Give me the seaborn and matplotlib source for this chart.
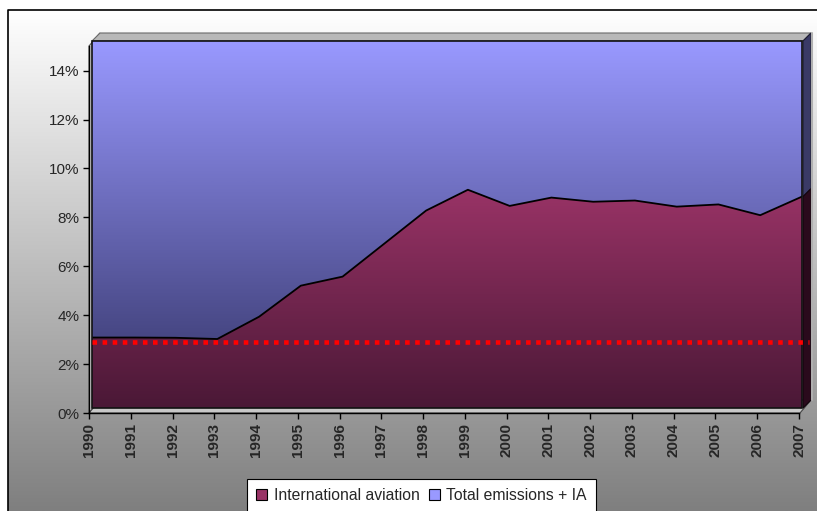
import numpy as np
import pandas as pd
import matplotlib
matplotlib.use("Agg")
import matplotlib.pyplot as plt
import seaborn as sns
from matplotlib.colors import LinearSegmentedColormap
from matplotlib.patches import Polygon, Rectangle, Patch

# ---- data -------------------------------------------------------------
years = list(range(1990, 2008))
intl_aviation = [2.88, 2.88, 2.87, 2.82, 3.73, 5.00, 5.37, 6.72, 8.07, 8.92,
                 8.26, 8.60, 8.43, 8.48, 8.23, 8.32, 7.88, 8.64]
total_emissions_ia = [100.0] * len(years)
reference_level = 2.69
y_ticks = [0, 2, 4, 6, 8, 10, 12, 14]
y_tick_labels = [f"{v}%" for v in y_ticks]
series_names = ["International aviation", "Total emissions + IA"]

df = pd.DataFrame({"year": years, "ia": intl_aviation, "total": total_emissions_ia})

# ---- style ------------------------------------------------------------
sns.set_style("white")
plt.rcParams["font.family"] = ["Liberation Sans", "DejaVu Sans"]

W, H = 817, 511
fig = plt.figure(figsize=(W / 100, H / 100), dpi=100)
fig.patch.set_facecolor("white")


def fig_rect(x0, y_top, x1, y_bottom):
    """Axes rectangle from pixel coordinates (origin top-left)."""
    return [x0 / W, 1 - y_bottom / H, (x1 - x0) / W, (y_bottom - y_top) / H]


# ---- chart area background and pseudo-3D frame ---------------------------
bg = fig.add_axes([0, 0, 1, 1], zorder=0)
bg.set_xlim(0, W)
bg.set_ylim(H, 0)
bg.axis("off")
grad = np.linspace(0, 1, 256).reshape(-1, 1)
bg_cmap = LinearSegmentedColormap.from_list("bg", ["#ffffff", "#7f7f7f"])
bg.imshow(grad, cmap=bg_cmap, extent=[8, W, H, 10], aspect="auto", zorder=0)
bg.plot([8, 8, W], [H, 10, 10], color="black", lw=1.2, zorder=1)

# walls, floor and the depth faces of the areas
bg.add_patch(Polygon([(89, 413), (100, 400), (100, 33), (89, 46)], closed=True,
                     facecolor="#d4d4d4", edgecolor="#555555", lw=0.8, zorder=2))
bg.add_patch(Polygon([(89, 413), (800, 413), (811, 400), (100, 400)], closed=True,
                     facecolor="#c8c8c8", edgecolor="#444444", lw=0.8, zorder=2))
bg.add_patch(Polygon([(92, 41), (100, 33), (811, 33), (803, 41)], closed=True,
                     facecolor="#b8b8b8", edgecolor="#6a6a6a", lw=0.8, zorder=3))
ia_end_y = 408 - intl_aviation[-1] * (367 / 15)
bg.add_patch(Polygon([(803, 41), (811, 33), (811, ia_end_y - 8), (803, ia_end_y)],
                     closed=True, facecolor="#3a3a66", edgecolor="#1a1a30", lw=0.8, zorder=3))
bg.add_patch(Polygon([(803, ia_end_y), (811, ia_end_y - 8), (811, 400), (803, 408)],
                     closed=True, facecolor="#2a0a1c", edgecolor="#12040c", lw=0.8, zorder=3))
bg.plot([812, 812], [33, 400], color="#b0b0b0", lw=1.5, zorder=3)

# ---- data plane (back) ------------------------------------------------
ax = fig.add_axes(fig_rect(92, 41, 802, 408), zorder=1)
ax.set_xlim(years[0], years[-1])
ax.set_ylim(0, 15)
ax.axis("off")

blue_cmap = LinearSegmentedColormap.from_list("blue", ["#333366", "#9999ff"])
red_cmap = LinearSegmentedColormap.from_list("red", ["#4a1836", "#993366"])
vgrad = np.linspace(0, 1, 256).reshape(-1, 1)

total_poly = ax.fill_between(df["year"], 0, np.minimum(df["total"], 15),
                             facecolor="none", edgecolor="none")
im_blue = ax.imshow(vgrad, cmap=blue_cmap, origin="lower", aspect="auto",
                    extent=[years[0], years[-1], 0, 15], zorder=1)
im_blue.set_clip_path(total_poly.get_paths()[0], transform=ax.transData)

ia_poly = ax.fill_between(df["year"], 0, df["ia"], facecolor="none", edgecolor="none")
im_red = ax.imshow(vgrad, cmap=red_cmap, origin="lower", aspect="auto",
                   extent=[years[0], years[-1], 0, max(intl_aviation)], zorder=2)
im_red.set_clip_path(ia_poly.get_paths()[0], transform=ax.transData)

sns.lineplot(data=df, x="year", y="ia", color="black", lw=1.3, ax=ax, zorder=4)
ax.add_patch(Rectangle((0, 0), 1, 1, transform=ax.transAxes, fill=False,
                       edgecolor="#111111", lw=1.2, zorder=5, clip_on=False))
ax.axhline(reference_level, xmin=0, xmax=(809 - 92) / 710, color="#ff0000", lw=3.3,
           linestyle=(0, (1.0, 1.2)), dash_capstyle="butt", clip_on=False, zorder=6)

# ---- axis plane (front) -----------------------------------------------
axf = fig.add_axes(fig_rect(89, 46.25, 799, 413), zorder=2)
axf.patch.set_visible(False)
axf.set_xlim(years[0], years[-1])
axf.set_ylim(0, 15)
for side in ("top", "right"):
    axf.spines[side].set_visible(False)
for side in ("left", "bottom"):
    axf.spines[side].set_color("black")
    axf.spines[side].set_linewidth(1.0)
axf.set_yticks(y_ticks)
axf.set_yticklabels(y_tick_labels, fontsize=11)
axf.set_xticks(years)
axf.set_xticklabels([str(y) for y in years], rotation=90, fontsize=11,
                    fontweight="bold")
axf.tick_params(axis="both", direction="out", length=4, width=1, color="black",
                pad=3, left=True, bottom=True)
axf.set_xlabel("")
axf.set_ylabel("")

# ---- legend -----------------------------------------------------------
handles = [Patch(facecolor="#993366", edgecolor="black", lw=0.8),
           Patch(facecolor="#9999ff", edgecolor="black", lw=0.8)]
leg = fig.legend(handles, series_names, loc="upper left",
                 bbox_to_anchor=(247 / W, 1 - 479 / H), ncol=2, fontsize=11.3,
                 frameon=True, fancybox=False, shadow=False, handlelength=0.7,
                 handleheight=0.7, handletextpad=0.4, columnspacing=0.6,
                 borderpad=0.6, borderaxespad=0)
leg.get_frame().set_facecolor("white")
leg.get_frame().set_edgecolor("black")
leg.get_frame().set_linewidth(0.8)
leg.get_frame().set_alpha(1)

fig.savefig("out.png", dpi=100)
